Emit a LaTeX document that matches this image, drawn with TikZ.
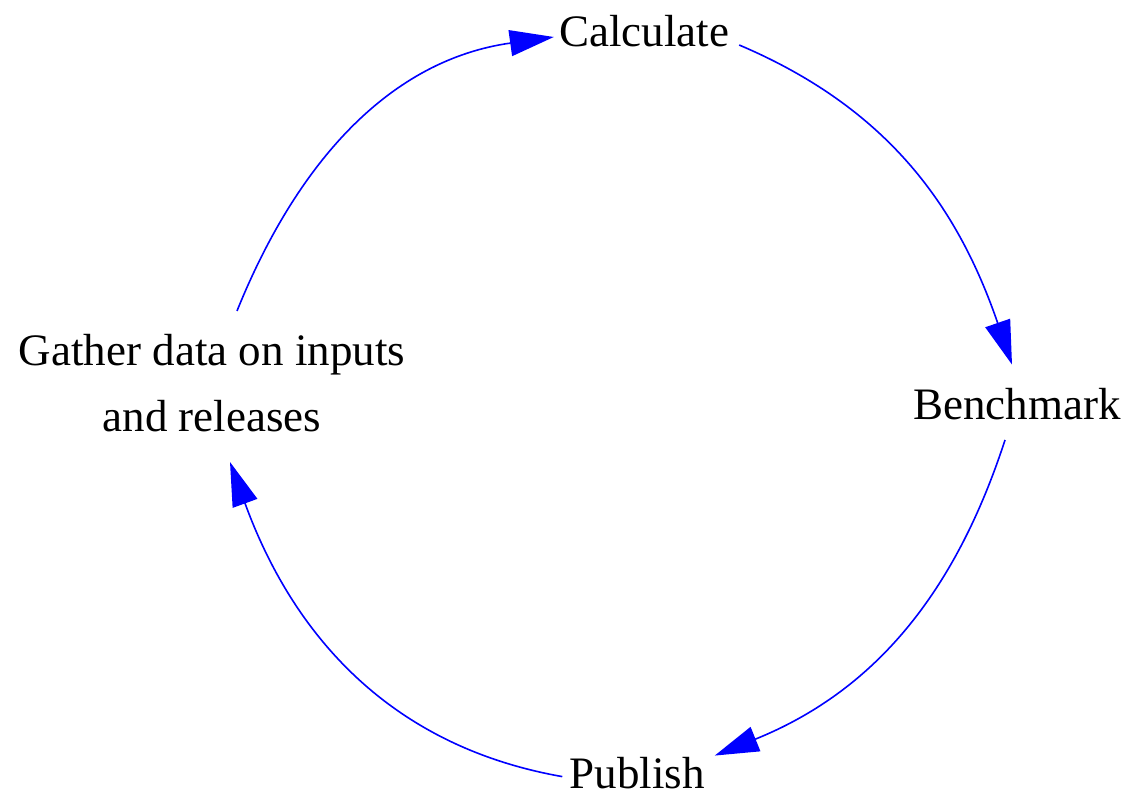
\documentclass[tikz,border=0pt]{standalone}
\usepackage{fontspec}
\setmainfont{Liberation Serif}
\usetikzlibrary{arrows.meta}

\begin{document}
\begin{tikzpicture}[x=1pt, y=1pt,
  stage/.style={inner sep=0pt, font=\fontsize{45}{66}\selectfont},
  cycle/.style={blue, line width=1.6pt, -{Triangle[length=44pt, width=26pt]}}]
  \useasboundingbox (0,0) rectangle (1128,800);

  \node[stage, anchor=base] (calc)  at (644,753) {Calculate};
  \node[stage, anchor=base] (bench) at (1017,380) {Benchmark};
  \node[stage, anchor=base] (pub)   at (637,11)  {Publish};
  \node[stage, align=center] (gather) at (212,417) {Gather data on inputs\\and releases};

  \draw[cycle] ([xshift=25pt,yshift=23pt]gather.north) to[out=68, in=188] ([xshift=-5pt,yshift=10pt]calc.base west);
  \draw[cycle] ([xshift=10pt,yshift=2pt]calc.base east) to[out=-23, in=109] ([xshift=-5pt,yshift=24pt]bench.north);
  \draw[cycle] ([xshift=-12pt,yshift=-20pt]bench.base) to[out=252, in=22] ([xshift=10pt,yshift=2pt]pub.north east);
  \draw[cycle] ([xshift=-7pt,yshift=-3pt]pub.west) to[out=170, in=290] ([xshift=18pt,yshift=-30pt]gather.south);
\end{tikzpicture}
\end{document}
